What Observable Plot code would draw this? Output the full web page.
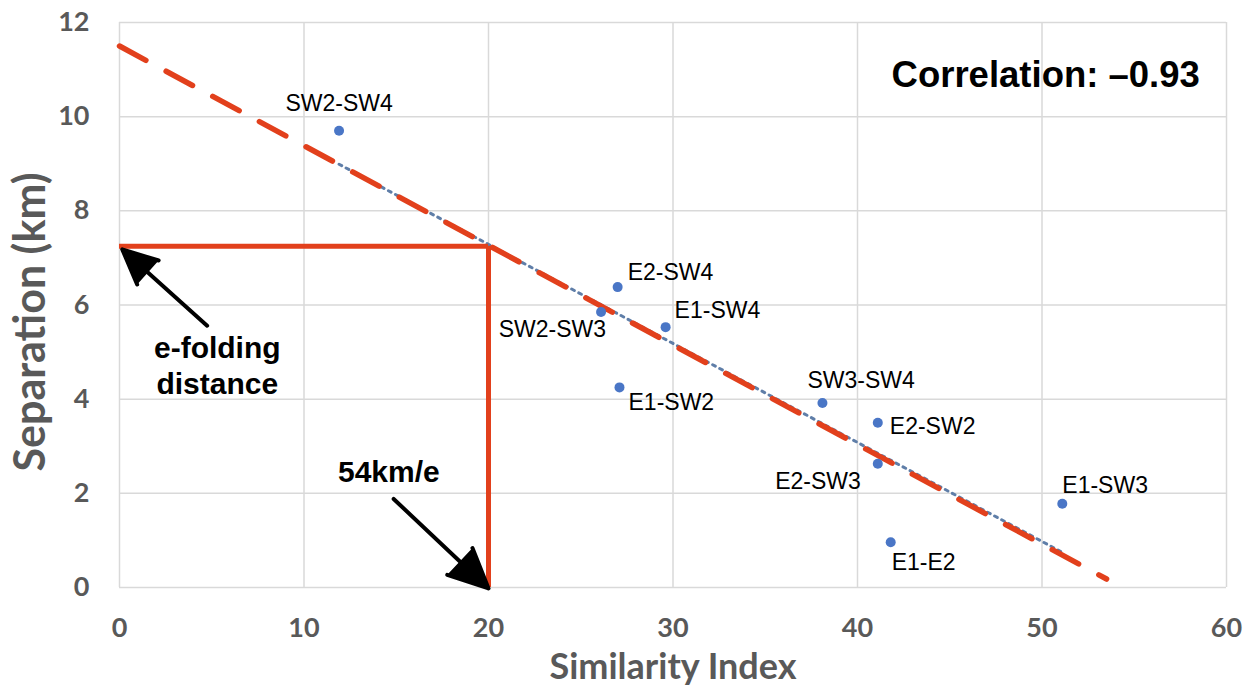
<!DOCTYPE html>
<html><head><meta charset="utf-8">
<script src="https://cdn.jsdelivr.net/npm/d3@7"></script>
<script src="https://cdn.jsdelivr.net/npm/@observablehq/plot@0.6"></script>
<style>body{margin:0;background:#fff} #chart svg{display:block}</style>
</head><body><div id="chart"></div>
<script>
// ---- data ----
const pairs = ["SW2-SW4","E2-SW4","SW2-SW3","E1-SW4","E1-SW2","SW3-SW4","E2-SW2","E2-SW3","E1-SW3","E1-E2"];
const similarity = [11.9, 27.0, 26.1, 29.6, 27.1, 38.1, 41.1, 41.1, 51.1, 41.8];
const separation = [9.70, 6.38, 5.85, 5.53, 4.25, 3.92, 3.50, 2.63, 1.78, 0.96];
const xTicks = [0, 10, 20, 30, 40, 50, 60];
const yTicks = [0, 2, 4, 6, 8, 10, 12];
// hand-drawn red trend line (endpoints)
const trendSimilarity = [0, 53.5];
const trendSeparation = [11.5, 0.18];
// e-folding construction
const efoldSimilarity = 20;
const efoldSeparation = 7.25;
// annotations
const correlationLabel = "Correlation: –0.93";
const correlationAt = [50.2, 10.87];
const efoldLabel = "e-folding\ndistance";
const efoldLabelAt = [5.3, 4.73];
const kmLabel = "54km/e";
const kmLabelAt = [14.6, 2.44];
const arrowTail = [[4.75, 5.56], [14.86, 1.88]];
const arrowTip = [[0.15, 7.18], [20.0, -0.02]];

// ---- tables ----
const points = pairs.map((p, i) => ({pair: p, x: similarity[i], y: separation[i]}));
const trend = trendSimilarity.map((x, i) => ({x, y: trendSeparation[i]}));
const arrows = arrowTail.map((t, i) => ({x1: t[0], y1: t[1], x2: arrowTip[i][0], y2: arrowTip[i][1]}));

// label placement (anchor, dx, dy)
const place = {
  "SW2-SW4": ["middle", 0, -27],
  "E2-SW4": ["start", 10, -14],
  "SW2-SW3": ["end", 5, 18],
  "E1-SW4": ["start", 9, -17],
  "E1-SW2": ["start", 9, 15],
  "SW3-SW4": ["start", -15, -22],
  "E2-SW2": ["start", 12, 4],
  "E2-SW3": ["end", -17, 18],
  "E1-SW3": ["start", 0, -18],
  "E1-E2": ["start", 1, 20]
};

const red = "#e2401c";
const gray = "#595959";
const labelFont = "Liberation Sans, Arial, sans-serif";

const chart = Plot.plot({
  width: 1251, height: 698,
  marginLeft: 119, marginRight: 25, marginTop: 22, marginBottom: 111,
  x: {domain: [0, 60]},
  y: {domain: [0, 12]},
  style: {fontFamily: "Lato, sans-serif", background: "#fff"},
  marks: [
    Plot.gridX(xTicks, {stroke: "#d9d9d9", strokeOpacity: 1, strokeWidth: 1.5}),
    Plot.gridY(yTicks, {stroke: "#d9d9d9", strokeOpacity: 1, strokeWidth: 1.5}),
    Plot.axisX(xTicks, {tickSize: 0, tickPadding: 30, fontSize: 27, fontWeight: "bold", fill: gray, label: null, tickFormat: d => String(d)}),
    Plot.axisY(yTicks, {tickSize: 0, tickPadding: 30, fontSize: 27, fontWeight: "bold", fill: gray, label: null, tickFormat: d => String(d)}),
    Plot.text(["Similarity Index"], {frameAnchor: "bottom", textAnchor: "middle", dy: 91, fontSize: 36, fontWeight: "bold", fill: gray}),
    Plot.text(["Separation (km)"], {frameAnchor: "left", textAnchor: "middle", rotate: -90, dx: -88, dy: 17, fontSize: 43, fontWeight: "bold", fill: gray}),
    Plot.linearRegressionY(points, {x: "x", y: "y", ci: 0, stroke: "#5f7ea8", strokeWidth: 3, strokeDasharray: "3,5"}),
    Plot.line(trend, {x: "x", y: "y", stroke: red, strokeWidth: 5.5, strokeDasharray: "30,23"}),
    Plot.ruleY([efoldSeparation], {x1: 0, x2: efoldSimilarity, stroke: red, strokeWidth: 5}),
    Plot.ruleX([efoldSimilarity], {y1: 0, y2: efoldSeparation, stroke: red, strokeWidth: 5}),
    Plot.dot(points, {x: "x", y: "y", r: 5, fill: "#4a76c6"}),
    ...points.map(d => Plot.text([d], {x: "x", y: "y", text: "pair", textAnchor: place[d.pair][0], dx: place[d.pair][1], dy: place[d.pair][2], fontSize: 23, fontFamily: labelFont, fill: "#000"})),
    Plot.arrow(arrows, {x1: "x1", y1: "y1", x2: "x2", y2: "y2", stroke: "#000", fill: "#000", strokeWidth: 4, headLength: 24, headAngle: 50}),
    Plot.text([correlationLabel], {x: () => correlationAt[0], y: () => correlationAt[1], fontSize: 36.5, fontWeight: "bold", fontFamily: labelFont, fill: "#000"}),
    Plot.text([efoldLabel], {x: () => efoldLabelAt[0], y: () => efoldLabelAt[1], fontSize: 30, fontWeight: "bold", fontFamily: labelFont, lineHeight: 1.17, fill: "#000"}),
    Plot.text([kmLabel], {x: () => kmLabelAt[0], y: () => kmLabelAt[1], fontSize: 30, fontWeight: "bold", fontFamily: labelFont, fill: "#000"})
  ]
});
document.getElementById("chart").append(chart);
</script>
</body></html>
